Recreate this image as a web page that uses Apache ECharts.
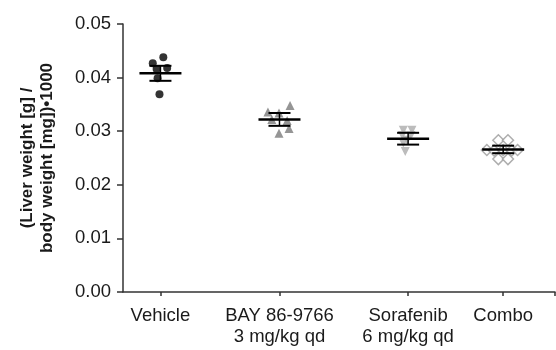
<!DOCTYPE html>
<html>
<head>
<meta charset="utf-8">
<script src="https://cdn.jsdelivr.net/npm/echarts@6/dist/echarts.min.js"></script>
<style>
    html, body { margin: 0; padding: 0; background: #fff; }
    #chart1 { width: 556px; height: 350px; }
</style>
</head>
<body>
<div id="chart1"></div>
<script>
// groups along the x axis
var groupNames = ['Vehicle', 'BAY 86-9766\n3 mg/kg qd', 'Sorafenib\n6 mg/kg qd', 'Combo'];
var groupX = [0.39, 1.63, 2.97, 3.96];
var yTicks = [0, 0.01, 0.02, 0.03, 0.04, 0.05];

// individual animals [x, ratio]
var vehiclePts = [[0.42, 0.0438], [0.31, 0.0427], [0.35, 0.0416], [0.46, 0.0418], [0.36, 0.0399], [0.38, 0.0369]];
var bayPts = [[1.74, 0.0348], [1.51, 0.0336], [1.625, 0.0334], [1.55, 0.0322], [1.71, 0.0320], [1.73, 0.0305], [1.625, 0.0296]];
var sorafenibPts = [[2.92, 0.0302], [3.01, 0.0302], [2.91, 0.0292], [3.00, 0.0292], [2.96, 0.0283], [2.92, 0.0278], [2.94, 0.0262]];
var comboPts = [[3.91, 0.0283], [4.01, 0.0283], [3.79, 0.0265], [3.865, 0.0264], [3.96, 0.0265], [4.05, 0.0264], [4.11, 0.0265], [3.91, 0.0248], [4.01, 0.0248]];

// group mean and SEM
var means = [0.0408, 0.0322, 0.0286, 0.0266];
var sems = [0.0014, 0.0012, 0.0011, 0.0007];

chart1();

function chart1() {
    var myChart = echarts.init(document.getElementById('chart1'));
    var font = 'Liberation Sans';
    var option = {
        animation: false,
        grid: {
            left: 123,
            right: 1,
            top: 24,
            bottom: 58,
            outerBoundsMode: 'none'
        },
        xAxis: {
            type: 'value',
            min: 0,
            max: 4.5,
            splitLine: { show: false },
            axisLine: { lineStyle: { color: '#333', width: 1.5 } },
            axisTick: {
                customValues: groupX.concat([4.5]),
                length: 4,
                lineStyle: { color: '#333', width: 1.5 }
            },
            axisLabel: {
                customValues: groupX,
                margin: 13,
                color: '#1a1a1a',
                fontFamily: font,
                fontSize: 18.5,
                lineHeight: 21,
                formatter: function (v) {
                    var best = 0;
                    for (var i = 1; i < groupX.length; i++) {
                        if (Math.abs(groupX[i] - v) < Math.abs(groupX[best] - v)) best = i;
                    }
                    return groupNames[best];
                }
            }
        },
        yAxis: {
            type: 'value',
            min: yTicks[0],
            max: yTicks[yTicks.length - 1],
            interval: 0.01,
            name: '(Liver weight [g] /\nbody weight [mg])•1000',
            nameLocation: 'middle',
            nameGap: 66,
            nameTextStyle: {
                color: '#1a1a1a',
                fontFamily: font,
                fontWeight: 'bold',
                fontSize: 17,
                lineHeight: 20
            },
            splitLine: { show: false },
            axisLine: { show: true, lineStyle: { color: '#333', width: 1.5 } },
            axisTick: { show: true, length: 6, lineStyle: { color: '#333', width: 1.5 } },
            axisLabel: {
                margin: 12,
                color: '#1a1a1a',
                fontFamily: font,
                fontSize: 18.5,
                formatter: function (v) { return v.toFixed(2); }
            }
        },
        series: [
            {
                type: 'scatter',
                data: vehiclePts,
                symbol: 'circle',
                symbolSize: 8,
                itemStyle: { color: '#000' }
            },
            {
                type: 'scatter',
                data: bayPts,
                symbol: 'triangle',
                symbolSize: 9,
                itemStyle: { color: '#7a7a7a' }
            },
            {
                type: 'scatter',
                data: sorafenibPts,
                symbol: 'triangle',
                symbolRotate: 180,
                symbolSize: 9,
                itemStyle: { color: '#ababab' }
            },
            {
                type: 'scatter',
                data: comboPts,
                symbol: 'diamond',
                symbolSize: 11,
                itemStyle: { color: '#fff', borderColor: '#9a9a9a', borderWidth: 1.5 }
            },
            {
                type: 'custom',
                z: 10,
                data: groupX.map(function (x, i) { return [x, means[i], sems[i]]; }),
                encode: { x: 0, y: 1 },
                renderItem: function (params, api) {
                    var x = api.value(0), m = api.value(1), s = api.value(2);
                    var c = api.coord([x, m]);
                    var hi = api.coord([x, m + s]);
                    var lo = api.coord([x, m - s]);
                    var st = { stroke: '#000', lineWidth: 2 };
                    return {
                        type: 'group',
                        children: [
                            { type: 'line', shape: { x1: c[0] - 21, y1: c[1], x2: c[0] + 21, y2: c[1] }, style: { stroke: '#000', lineWidth: 2.5 } },
                            { type: 'line', shape: { x1: c[0], y1: hi[1], x2: c[0], y2: lo[1] }, style: { stroke: '#000', lineWidth: 1.5 } },
                            { type: 'line', shape: { x1: c[0] - 11, y1: hi[1], x2: c[0] + 11, y2: hi[1] }, style: st },
                            { type: 'line', shape: { x1: c[0] - 11, y1: lo[1], x2: c[0] + 11, y2: lo[1] }, style: st }
                        ]
                    };
                }
            }
        ]
    };
    myChart.setOption(option);
}
</script>
</body>
</html>
